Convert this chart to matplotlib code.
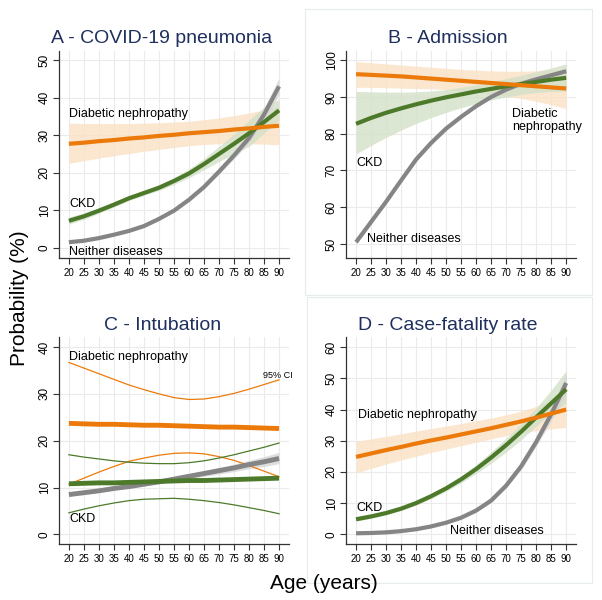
import matplotlib
matplotlib.use("Agg")
import matplotlib.pyplot as plt
from matplotlib.patches import Rectangle

plt.rcParams['font.family'] = ['Liberation Sans', 'DejaVu Sans']

# Dados
idades = [20, 25, 30, 35, 40, 45, 50, 55, 60, 65, 70, 75, 80, 85, 90]

# A - COVID-19 pneumonia
a_nei = [1.5, 1.9, 2.6, 3.5, 4.5, 5.8, 7.7, 9.9, 12.8, 16.2, 20.3, 24.6, 29.2, 35.5, 43.0]
a_nei_lo = [1.3, 1.7, 2.4, 3.3, 4.3, 5.6, 7.4, 9.6, 12.4, 15.7, 19.6, 23.7, 28.0, 33.8, 40.8]
a_nei_hi = [1.7, 2.1, 2.8, 3.7, 4.7, 6.0, 8.0, 10.2, 13.2, 16.7, 21.0, 25.5, 30.4, 37.2, 45.2]
a_ckd = [7.2, 8.4, 9.9, 11.5, 13.2, 14.6, 16.0, 17.8, 19.8, 22.3, 25.0, 27.7, 30.5, 33.5, 36.6]
a_ckd_lo = [6.3, 7.6, 9.2, 10.9, 12.6, 14.0, 15.3, 16.9, 18.7, 20.8, 23.0, 25.0, 27.0, 30.5, 34.0]
a_ckd_hi = [8.2, 9.3, 10.7, 12.2, 13.8, 15.3, 16.8, 18.7, 21.0, 23.8, 27.0, 30.3, 34.0, 37.5, 39.5]
a_dn = [27.7, 28.0, 28.4, 28.7, 29.1, 29.4, 29.8, 30.1, 30.5, 30.8, 31.1, 31.5, 31.8, 32.2, 32.5]
a_dn_lo = [22.5, 23.2, 23.9, 24.5, 25.1, 25.7, 26.2, 26.7, 27.2, 27.5, 27.7, 27.8, 27.7, 27.6, 27.4]
a_dn_hi = [33.2, 33.1, 33.1, 33.1, 33.1, 33.2, 33.3, 33.5, 33.7, 34.1, 34.6, 35.2, 35.9, 36.7, 37.6]

# B - Admission
b_nei = [50.5, 56.0, 61.5, 67.3, 73.0, 77.5, 81.4, 84.6, 87.5, 90.0, 92.0, 93.6, 94.8, 95.9, 97.0]
b_nei_lo = [50.0, 55.5, 61.0, 66.8, 72.5, 77.0, 81.0, 84.2, 87.2, 89.7, 91.7, 93.3, 94.5, 95.5, 96.5]
b_nei_hi = [51.0, 56.5, 62.0, 67.8, 73.5, 78.0, 81.8, 85.0, 87.8, 90.3, 92.3, 93.9, 95.1, 96.3, 97.5]
b_ckd = [82.7, 84.3, 85.7, 86.9, 88.0, 89.0, 89.9, 90.7, 91.5, 92.2, 92.9, 93.5, 94.1, 94.7, 95.2]
b_ckd_lo = [74.5, 76.8, 79.0, 81.0, 82.8, 84.4, 85.8, 87.1, 88.2, 89.2, 90.0, 90.7, 91.2, 91.5, 91.6]
b_ckd_hi = [91.5, 91.4, 91.3, 91.3, 91.4, 91.6, 92.0, 92.6, 93.3, 94.1, 95.0, 95.9, 96.9, 97.9, 99.0]
b_dn = [96.2, 96.0, 95.8, 95.6, 95.3, 95.0, 94.7, 94.4, 94.1, 93.8, 93.5, 93.2, 92.9, 92.6, 92.3]
b_dn_lo = [92.6, 92.6, 92.5, 92.4, 92.3, 92.2, 92.0, 91.7, 91.3, 90.8, 90.2, 89.6, 88.8, 87.9, 86.8]
b_dn_hi = [99.6, 99.3, 99.0, 98.7, 98.4, 98.1, 97.8, 97.5, 97.3, 97.1, 97.0, 97.0, 97.1, 97.3, 97.6]

# C - Intubation
c_nei = [8.5, 8.9, 9.3, 9.8, 10.2, 10.7, 11.2, 11.8, 12.4, 13.0, 13.6, 14.2, 14.9, 15.5, 16.2]
c_nei_lo = [8.1, 8.5, 9.0, 9.5, 9.9, 10.4, 10.9, 11.4, 11.9, 12.4, 12.9, 13.4, 14.0, 14.5, 15.1]
c_nei_hi = [8.9, 9.3, 9.7, 10.1, 10.5, 11.0, 11.5, 12.2, 12.9, 13.6, 14.3, 15.0, 15.8, 16.6, 17.5]
c_ckd = [10.8, 10.9, 11.0, 11.0, 11.1, 11.2, 11.3, 11.4, 11.5, 11.5, 11.6, 11.7, 11.8, 11.9, 12.0]
c_ckd_lo = [4.6, 5.4, 6.1, 6.7, 7.2, 7.5, 7.6, 7.7, 7.5, 7.2, 6.8, 6.3, 5.7, 5.1, 4.4]
c_ckd_hi = [17.0, 16.5, 16.1, 15.7, 15.4, 15.2, 15.1, 15.1, 15.3, 15.7, 16.3, 17.0, 17.8, 18.6, 19.5]
c_dn = [23.7, 23.6, 23.5, 23.5, 23.4, 23.3, 23.3, 23.2, 23.1, 23.0, 22.9, 22.9, 22.8, 22.7, 22.6]
c_dn_lo = [10.7, 12.0, 13.3, 14.5, 15.6, 16.3, 16.9, 17.3, 17.4, 17.2, 16.6, 15.8, 14.7, 13.5, 12.3]
c_dn_hi = [36.7, 35.5, 34.3, 33.1, 31.9, 30.9, 30.0, 29.2, 28.8, 28.9, 29.4, 30.1, 31.0, 32.0, 33.0]

# D - Case-fatality rate
d_nei = [0.3, 0.4, 0.6, 1.0, 1.6, 2.5, 3.7, 5.3, 7.6, 10.8, 15.6, 21.8, 29.6, 38.5, 48.5]
d_nei_lo = [0.2, 0.3, 0.5, 0.9, 1.4, 2.3, 3.4, 4.9, 7.1, 10.2, 14.8, 20.7, 28.2, 36.4, 45.0]
d_nei_hi = [0.4, 0.5, 0.7, 1.1, 1.8, 2.7, 4.0, 5.7, 8.1, 11.4, 16.4, 22.9, 31.0, 40.6, 51.5]
d_ckd = [4.8, 5.7, 6.8, 8.2, 10.0, 12.2, 14.7, 17.6, 20.9, 24.6, 28.6, 32.9, 37.5, 42.0, 46.5]
d_ckd_lo = [4.2, 5.1, 6.2, 7.6, 9.3, 11.4, 13.8, 16.5, 19.5, 22.8, 26.4, 30.3, 34.7, 38.8, 42.0]
d_ckd_hi = [5.5, 6.4, 7.5, 8.9, 10.7, 13.0, 15.6, 18.7, 22.3, 26.4, 30.8, 35.5, 40.5, 46.2, 52.5]
d_dn = [24.8, 25.9, 27.0, 28.0, 29.1, 30.1, 31.0, 32.0, 33.0, 34.0, 35.1, 36.2, 37.4, 38.7, 40.0]
d_dn_lo = [19.6, 21.1, 22.5, 23.8, 25.0, 26.2, 27.3, 28.4, 29.5, 30.6, 31.6, 32.5, 33.2, 33.8, 34.2]
d_dn_hi = [29.8, 30.6, 31.4, 32.2, 33.1, 33.9, 34.7, 35.5, 36.4, 37.3, 38.3, 39.5, 41.0, 43.2, 45.6]

# Cores
laranja = '#EC7A0A'
laranja_claro = '#FBE2C5'
verde = '#4D7A2A'
verde_claro = '#D3E0C8'
cinza = '#858585'
cinza_claro = '#D6D6D6'
azul_titulo = '#1F2F5E'

fig = plt.figure(figsize=(6.02, 6.0), dpi=100)

# Caixas claras em volta dos painéis B e D
fig.patches.append(Rectangle((0.507, 0.508), 0.476, 0.477, transform=fig.transFigure,
                             fill=False, edgecolor='#E4ECEE', linewidth=0.8))
fig.patches.append(Rectangle((0.510, 0.028), 0.473, 0.477, transform=fig.transFigure,
                             fill=False, edgecolor='#E4ECEE', linewidth=0.8))


def eixo(ret, titulo, yticks, ylim, titulo_x):
    ax = fig.add_axes(ret)
    ax.set_xlim(16.7, 93.3)
    ax.set_ylim(*ylim)
    ax.set_xticks(idades)
    ax.set_yticks(yticks)
    ax.set_yticklabels([str(v) for v in yticks], rotation=90, va='center')
    ax.tick_params(axis='x', labelsize=7, length=4, width=0.8, color='#333333', pad=3)
    ax.tick_params(axis='y', labelsize=8.5, length=4, width=0.8, color='#333333', pad=2)
    ax.grid(True, color='#EBEBEB', linewidth=0.8)
    ax.set_axisbelow(True)
    for s in ['top', 'right']:
        ax.spines[s].set_visible(False)
    for s in ['left', 'bottom']:
        ax.spines[s].set_color('#333333')
        ax.spines[s].set_linewidth(0.9)
    ax.text(titulo_x, 1.017, titulo, transform=ax.transAxes, ha='center', va='bottom',
            fontsize=14, color=azul_titulo)
    return ax


def curvas(ax, nei, nei_lo, nei_hi, ckd, ckd_lo, ckd_hi, dn, dn_lo, dn_hi):
    ax.fill_between(idades, dn_lo, dn_hi, color=laranja_claro, alpha=0.8, linewidth=0)
    ax.fill_between(idades, ckd_lo, ckd_hi, color=verde_claro, alpha=0.8, linewidth=0)
    ax.fill_between(idades, nei_lo, nei_hi, color=cinza_claro, alpha=0.8, linewidth=0)
    ax.plot(idades, nei, color=cinza, linewidth=3, solid_capstyle='butt')
    ax.plot(idades, ckd, color=verde, linewidth=3, solid_capstyle='butt')
    ax.plot(idades, dn, color=laranja, linewidth=3, solid_capstyle='butt')


# Painel A
axA = eixo([0.098, 0.570, 0.382, 0.345], 'A - COVID-19 pneumonia',
           [0, 10, 20, 30, 40, 50], (-2.7, 52.4), 0.448)
curvas(axA, a_nei, a_nei_lo, a_nei_hi, a_ckd, a_ckd_lo, a_ckd_hi, a_dn, a_dn_lo, a_dn_hi)
axA.text(20, 35.6, 'Diabetic nephropathy', fontsize=9, va='center')
axA.text(20, 11.7, 'CKD', fontsize=9, va='center')
axA.text(20, -1.0, 'Neither diseases', fontsize=9, va='center')

# Painel B
axB = eixo([0.575, 0.570, 0.382, 0.345], 'B - Admission',
           [50, 60, 70, 80, 90, 100], (46.2, 102.5), 0.443)
curvas(axB, b_nei, b_nei_lo, b_nei_hi, b_ckd, b_ckd_lo, b_ckd_hi, b_dn, b_dn_lo, b_dn_hi)
axB.text(71.9, 83.5, 'Diabetic\nnephropathy', fontsize=9, va='center', linespacing=1.1)
axB.text(20, 72, 'CKD', fontsize=9, va='center')
axB.text(23.6, 51.4, 'Neither diseases', fontsize=9, va='center')

# Painel C (IC como linhas finas)
axC = eixo([0.098, 0.093, 0.382, 0.345], 'C - Intubation',
           [0, 10, 20, 30, 40], (-2.1, 42.1), 0.450)
axC.fill_between(idades, c_nei_lo, c_nei_hi, color=cinza_claro, alpha=0.8, linewidth=0)
axC.plot(idades, c_dn_hi, color=laranja, linewidth=0.9)
axC.plot(idades, c_dn_lo, color=laranja, linewidth=0.9)
axC.plot(idades, c_ckd_hi, color=verde, linewidth=0.9)
axC.plot(idades, c_ckd_lo, color=verde, linewidth=0.9)
axC.plot(idades, c_nei, color=cinza, linewidth=3.5, solid_capstyle='butt')
axC.plot(idades, c_ckd, color=verde, linewidth=3.5, solid_capstyle='butt')
axC.plot(idades, c_dn, color=laranja, linewidth=3.5, solid_capstyle='butt')
axC.text(20, 37.9, 'Diabetic nephropathy', fontsize=9, va='center')
axC.text(84.7, 34.0, '95% CI', fontsize=6.5, va='center')
axC.text(20, 3.2, 'CKD', fontsize=9, va='center')

# Painel D
axD = eixo([0.575, 0.093, 0.382, 0.345], 'D - Case-fatality rate',
           [0, 10, 20, 30, 40, 50, 60], (-3.2, 63.2), 0.443)
curvas(axD, d_nei, d_nei_lo, d_nei_hi, d_ckd, d_ckd_lo, d_ckd_hi, d_dn, d_dn_lo, d_dn_hi)
axD.text(20.8, 38.4, 'Diabetic nephropathy', fontsize=9, va='center')
axD.text(20, 8.5, 'CKD', fontsize=9, va='center')
axD.text(51.3, 0.9, 'Neither diseases', fontsize=9, va='center')

# Rótulos comuns
fig.text(0.032, 0.503, 'Probability (%)', rotation=90, ha='center', va='center', fontsize=15)
fig.text(0.538, 0.027, 'Age (years)', ha='center', va='center', fontsize=15)

fig.savefig('out.png', dpi=100)
